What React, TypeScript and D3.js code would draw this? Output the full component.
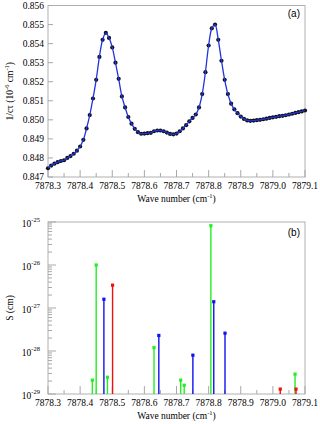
import React from 'react';
import * as d3 from 'd3';

// panel (a): measured 1/cτ, one value every 0.01 cm-1 from 7878.30 to 7879.10
const waveStart = 7878.3;
const waveStep = 0.01;
const ctValues = [
  0.84746, 0.8476, 0.8477, 0.84778, 0.84784, 0.84788, 0.848, 0.8481, 0.84822, 0.84838,
  0.8486, 0.84895, 0.84955, 0.85025, 0.85112, 0.8521, 0.8533, 0.8542, 0.85456, 0.8543,
  0.8538, 0.853, 0.85215, 0.85123, 0.85065, 0.85015, 0.8498, 0.84953, 0.84935, 0.84927,
  0.84928, 0.8493, 0.84932, 0.8494, 0.84944, 0.84944, 0.8494, 0.84933, 0.84926, 0.84924,
  0.84928, 0.8494, 0.84955, 0.84972, 0.84992, 0.8501, 0.85028, 0.85065, 0.85135, 0.8525,
  0.8539, 0.8548, 0.855, 0.8542, 0.8531, 0.8521, 0.85135, 0.85085, 0.85055, 0.85035,
  0.85017, 0.85005, 0.84997, 0.84995, 0.84996, 0.84998, 0.85, 0.85003, 0.85006, 0.8501,
  0.85013, 0.85016, 0.85019, 0.85021, 0.85024, 0.85028, 0.85032, 0.85036, 0.8504, 0.85044,
  0.85049,
];

// panel (b): line positions, intensities and species
const linePos = [
  7878.438, 7878.45, 7878.474, 7878.485, 7878.501, 7878.63, 7878.645, 7878.713, 7878.724,
  7878.751, 7878.807, 7878.816, 7878.851, 7879.023, 7879.069, 7879.072,
];
const lineS = [
  2.1e-29, 1.0e-26, 1.6e-27, 2.45e-29, 3.4e-27, 1.2e-28, 2.3e-28, 2.1e-29, 1.6e-29,
  8.0e-29, 8.2e-26, 1.4e-27, 2.6e-28, 1.3e-29, 2.9e-29, 1.3e-29,
];
const lineKind = ['g', 'g', 'b', 'g', 'r', 'g', 'b', 'g', 'g', 'b', 'g', 'b', 'b', 'r', 'g', 'r'];

const xTicks = [7878.3, 7878.4, 7878.5, 7878.6, 7878.7, 7878.8, 7878.9, 7879.0, 7879.1];
const ctTicks = [0.847, 0.848, 0.849, 0.85, 0.851, 0.852, 0.853, 0.854, 0.855, 0.856];
const sDecades = [-29, -28, -27, -26, -25];

const W = 320;
const H = 424;
const left = 48;
const right = 305;
const aTop = 5.5;
const aBottom = 177;
const bTop = 222;
const bBottom = 394;

const kindColor: Record<string, string> = { g: '#22ee22', b: '#1111ee', r: '#ee1111' };
const serif = '"Liberation Serif", "Times New Roman", serif';
const sans = '"Liberation Sans", Arial, sans-serif';
const tickGrey = '#a8a8a8';

export default function App() {
  const x = d3.scaleLinear().domain([7878.3, 7879.1]).range([left, right]);
  const yA = d3.scaleLinear().domain([0.847, 0.856]).range([aBottom, aTop]);
  const yB = d3.scaleLog().domain([1e-29, 1e-25]).range([bBottom, bTop]);

  const pts = ctValues.map((v, i) => [waveStart + i * waveStep, v] as [number, number]);
  const line = d3
    .line<[number, number]>()
    .x((d) => x(d[0]))
    .y((d) => yA(d[1]))
    .curve(d3.curveCatmullRom);

  const minorX = d3.range(0, 17).map((i) => 7878.3 + i * 0.05);

  const xAxis = (bottom: number, big: number, small: number, labelY: number) => (
    <g>
      {minorX.map((v, i) => (
        <line
          key={i}
          x1={x(v)}
          x2={x(v)}
          y1={bottom}
          y2={bottom - (i % 2 === 0 ? big : small)}
          stroke={tickGrey}
          strokeWidth={1}
        />
      ))}
      {xTicks.map((t) => (
        <text key={t} x={x(t)} y={labelY} fontSize={9.5} fontFamily={serif} textAnchor="middle">
          {t.toFixed(1)}
        </text>
      ))}
      <text x={(left + right) / 2} y={labelY + 13} fontSize={9.5} fontFamily={serif} textAnchor="middle">
        Wave number (cm
        <tspan dy={-4} fontSize={6.5}>-1</tspan>
        <tspan dy={4}>)</tspan>
      </text>
    </g>
  );

  const logMinor: number[] = [];
  sDecades.slice(0, -1).forEach((e) => {
    for (let k = 2; k <= 9; k++) logMinor.push(k * Math.pow(10, e));
  });

  return (
    <svg width={W} height={H} style={{ position: 'absolute', left: 0, top: 0 }}>
      <rect width={W} height={H} fill="#fff" />

      {/* panel (a) */}
      <rect x={left} y={aTop} width={right - left} height={aBottom - aTop} fill="none" stroke="#b0b0b0" />
      {ctTicks.map((t) => (
        <g key={t}>
          <line x1={left} x2={left + 5} y1={yA(t)} y2={yA(t)} stroke={tickGrey} />
          <text x={left - 4} y={yA(t) + 3} fontSize={9.5} fontFamily={serif} textAnchor="end">
            {t.toFixed(3)}
          </text>
        </g>
      ))}
      {xAxis(aBottom, 7, 4, 188.5)}
      {pts.map((d, i) => (
        <circle key={i} cx={x(d[0])} cy={yA(d[1])} r={2.1} fill="#111" />
      ))}
      <path d={line(pts) ?? ''} fill="none" stroke="#2233dd" strokeWidth={1.3} />
      <text x={right - 5} y={17} fontSize={10} fontFamily={sans} textAnchor="end">(a)</text>
      <text transform={`translate(13,${(aTop + aBottom) / 2}) rotate(-90)`} fontSize={9.5} fontFamily={serif} textAnchor="middle">
        1/cτ (10
        <tspan dy={-4} fontSize={6.5}>-6</tspan>
        <tspan dy={4}> cm</tspan>
        <tspan dy={-4} fontSize={6.5}>-1</tspan>
        <tspan dy={4}>)</tspan>
      </text>

      {/* panel (b) */}
      <rect x={left} y={bTop} width={right - left} height={bBottom - bTop} fill="none" stroke="#b0b0b0" />
      {logMinor.map((v, i) => (
        <line key={i} x1={left} x2={left + 4} y1={yB(v)} y2={yB(v)} stroke={tickGrey} />
      ))}
      {sDecades.map((e) => (
        <g key={e}>
          <line x1={left} x2={left + 8} y1={yB(Math.pow(10, e))} y2={yB(Math.pow(10, e))} stroke={tickGrey} />
          <text x={left - 8} y={yB(Math.pow(10, e)) + 5} fontSize={9.5} fontFamily={serif} textAnchor="end">
            10
            <tspan dy={-5} fontSize={6.5}>{String(e)}</tspan>
          </text>
        </g>
      ))}
      {xAxis(bBottom, 8, 4, 406)}
      {linePos.map((p, i) => (
        <g key={i}>
          <line
            x1={x(p)}
            x2={x(p)}
            y1={bBottom}
            y2={yB(lineS[i])}
            stroke={kindColor[lineKind[i]]}
            strokeWidth={1.4}
          />
          <rect x={x(p) - 1.6} y={yB(lineS[i]) - 1.6} width={3.2} height={3.2} fill={kindColor[lineKind[i]]} />
        </g>
      ))}
      <text x={right - 5} y={236} fontSize={10} fontFamily={sans} textAnchor="end">(b)</text>
      <text transform={`translate(13,${(bTop + bBottom) / 2}) rotate(-90)`} fontSize={9.5} fontFamily={serif} textAnchor="middle">
        S (cm)
      </text>
    </svg>
  );
}
